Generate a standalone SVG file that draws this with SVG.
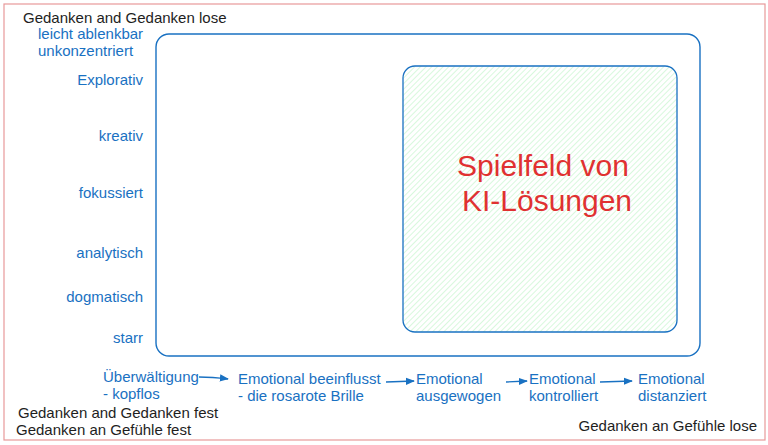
<svg xmlns="http://www.w3.org/2000/svg" width="768" height="445" viewBox="0 0 768 445">
<style>
.b{font-family:"Liberation Sans",Arial,sans-serif;font-size:15px;fill:#1971c2}
.k{font-family:"Liberation Sans",Arial,sans-serif;font-size:15px;fill:#1e1e1e}
.r{font-family:"Liberation Sans",Arial,sans-serif;font-size:30px;fill:#e03131}
.c{stroke:#1971c2;stroke-width:1.3;fill:none}
</style>
<defs>
<pattern id="h" width="4" height="4" patternUnits="userSpaceOnUse" patternTransform="rotate(45)">
<line x1="0" y1="0" x2="0" y2="4" stroke="#b2f2bb" stroke-width="1"/>
</pattern>
<marker id="a" viewBox="0 0 10 10" refX="9" refY="5" markerWidth="7" markerHeight="7" orient="auto">
<path d="M0,1 L10,5 L0,9 z" fill="#1971c2"/>
</marker>
</defs>
<rect width="768" height="445" fill="#fff"/>
<g id="frame"><rect x="4" y="4" width="761" height="436" fill="none" stroke="#e8999a" stroke-width="1.2"/></g>
<g id="outer-box"><rect x="156" y="34" width="544" height="322" rx="13" fill="none" stroke="#1971c2" stroke-width="1.4"/></g>
<g id="ki-field">
<rect x="403" y="66" width="274" height="266" rx="12" fill="url(#h)" stroke="#1971c2" stroke-width="1.3"/>
<text class="r" x="543" y="176" text-anchor="middle">Spielfeld von</text>
<text class="r" x="547" y="211" text-anchor="middle">KI-Lösungen</text>
</g>
<g id="corner-labels">
<text class="k" x="23" y="23">Gedanken and Gedanken lose</text>
<text class="k" x="18" y="418">Gedanken and Gedanken fest</text>
<text class="k" x="16" y="435">Gedanken an Gefühle fest</text>
<text class="k" x="757" y="431" text-anchor="end">Gedanken an Gefühle lose</text>
</g>
<g id="axis-y">
<text class="b" x="38" y="39">leicht ablenkbar</text>
<text class="b" x="38" y="56">unkonzentriert</text>
<text class="b" x="143" y="85" text-anchor="end">Explorativ</text>
<text class="b" x="143" y="141" text-anchor="end">kreativ</text>
<text class="b" x="143" y="198" text-anchor="end">fokussiert</text>
<text class="b" x="143" y="258" text-anchor="end">analytisch</text>
<text class="b" x="143" y="302" text-anchor="end">dogmatisch</text>
<text class="b" x="143" y="343" text-anchor="end">starr</text>
</g>
<g id="n1"><text class="b" x="103" y="382">Überwältigung</text><text class="b" x="103" y="399">- kopflos</text></g>
<g id="n2"><text class="b" x="238" y="384">Emotional beeinflusst</text><text class="b" x="238" y="401">- die rosarote Brille</text></g>
<g id="n3"><text class="b" x="416" y="384">Emotional</text><text class="b" x="416" y="401">ausgewogen</text></g>
<g id="n4"><text class="b" x="529" y="384">Emotional</text><text class="b" x="529" y="401">kontrolliert</text></g>
<g id="n5"><text class="b" x="638" y="384">Emotional</text><text class="b" x="638" y="401">distanziert</text></g>
<g id="connectors">
<path class="c" d="M199,377 Q212,377 228,379" marker-end="url(#a)"/>
<path class="c" d="M386,382 L414,381" marker-end="url(#a)"/>
<path class="c" d="M506,382 L527,381" marker-end="url(#a)"/>
<path class="c" d="M600,382 L632,381" marker-end="url(#a)"/>
</g>
</svg>
